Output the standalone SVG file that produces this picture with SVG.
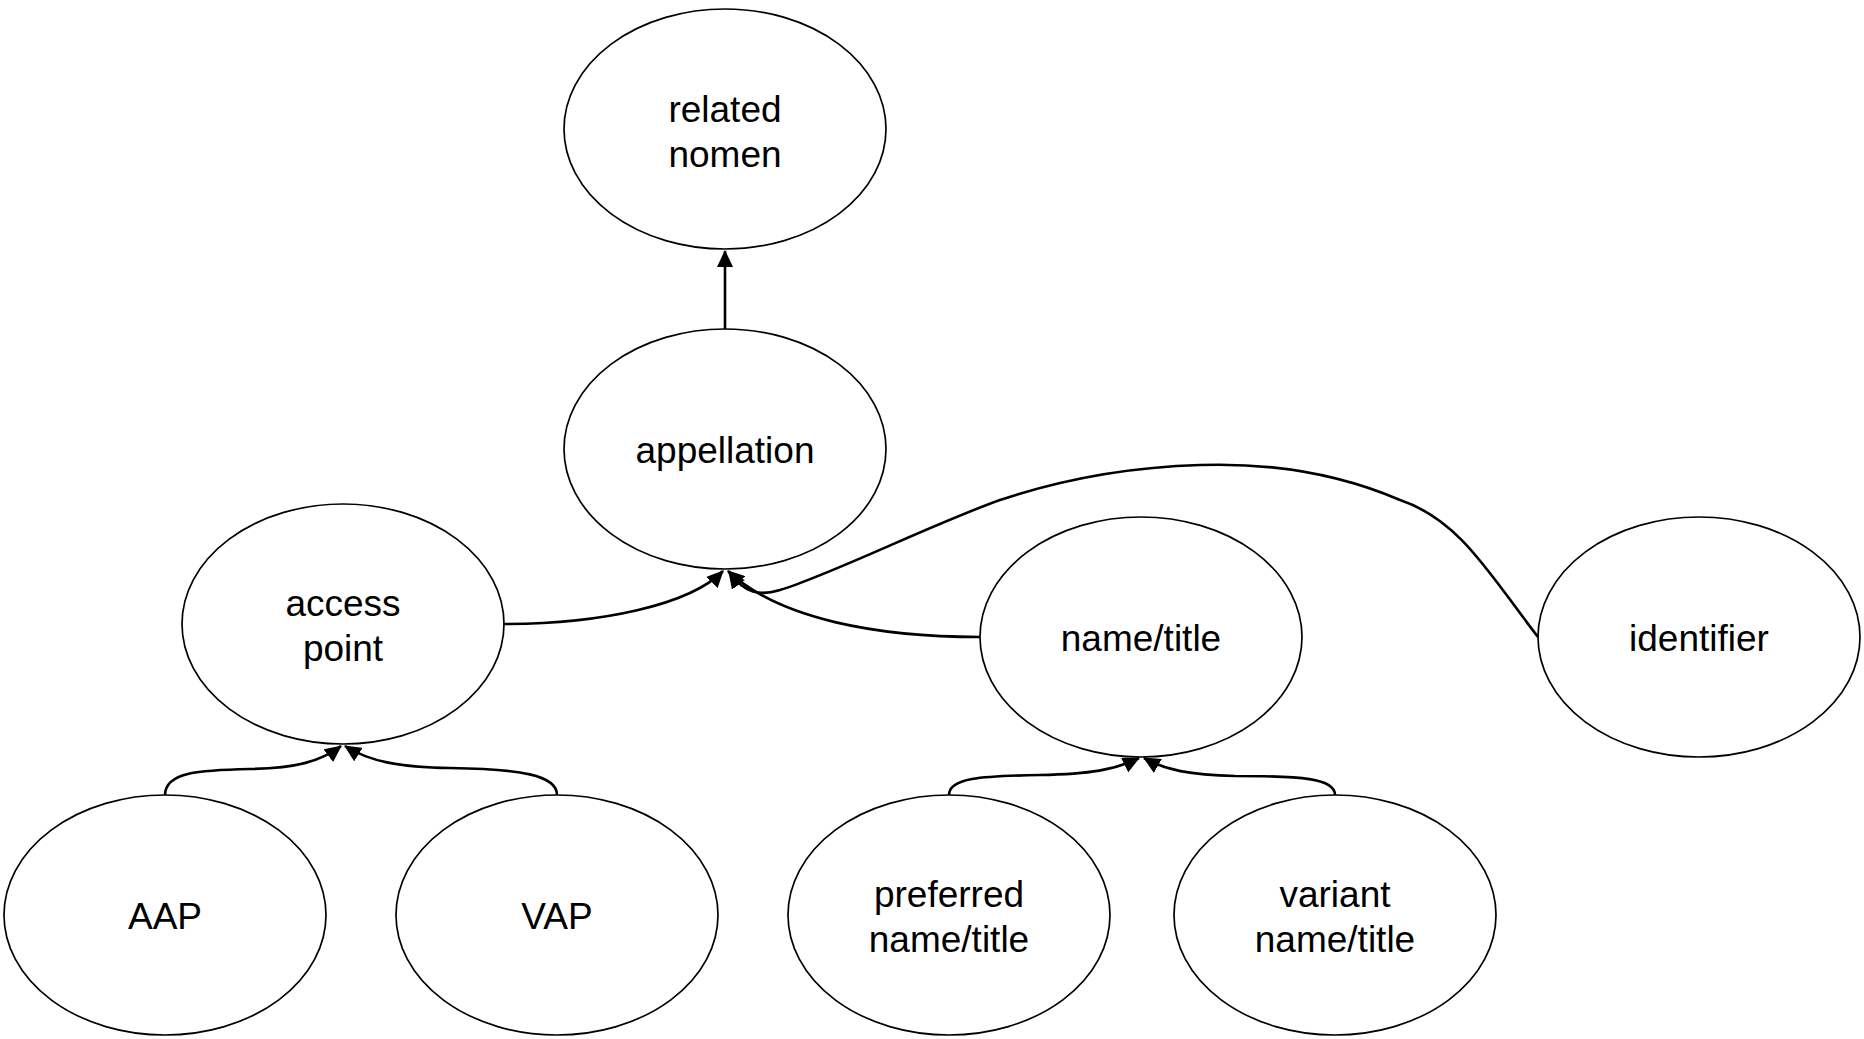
<svg xmlns="http://www.w3.org/2000/svg" width="1864" height="1039" viewBox="0 0 1864 1039">
<style>
.node ellipse{fill:#ffffff;stroke:#000000;stroke-width:1.7}
.node text{font-family:"Liberation Sans",Arial,sans-serif;font-size:37px;fill:#000000;text-anchor:middle}
.edge{fill:none;stroke:#000000;stroke-width:2.6;marker-end:url(#arrow)}
</style>
<defs>
<marker id="arrow" viewBox="0 0 17 16" refX="16" refY="8" markerWidth="17" markerHeight="16" markerUnits="userSpaceOnUse" orient="auto">
<path d="M0,0 L17,8 L0,16 z" fill="#000000"/>
</marker>
</defs>
<rect width="1864" height="1039" fill="#ffffff"/>
<g id="n-related-nomen" class="node"><ellipse cx="725" cy="129" rx="161" ry="120"/><text x="725" y="122">related</text><text x="725" y="167">nomen</text></g>
<g id="n-appellation" class="node"><ellipse cx="725" cy="449" rx="161" ry="120"/><text x="725" y="463">appellation</text></g>
<g id="n-access-point" class="node"><ellipse cx="343" cy="624" rx="161" ry="120"/><text x="343" y="616">access</text><text x="343" y="661">point</text></g>
<g id="n-name-title" class="node"><ellipse cx="1141" cy="637" rx="161" ry="120"/><text x="1141" y="651">name/title</text></g>
<g id="n-identifier" class="node"><ellipse cx="1699" cy="637" rx="161" ry="120"/><text x="1699" y="651">identifier</text></g>
<g id="n-aap" class="node"><ellipse cx="165" cy="915" rx="161" ry="120"/><text x="165" y="929">AAP</text></g>
<g id="n-vap" class="node"><ellipse cx="557" cy="915" rx="161" ry="120"/><text x="557" y="929">VAP</text></g>
<g id="n-preferred" class="node"><ellipse cx="949" cy="915" rx="161" ry="120"/><text x="949" y="907">preferred</text><text x="949" y="952">name/title</text></g>
<g id="n-variant" class="node"><ellipse cx="1335" cy="915" rx="161" ry="120"/><text x="1335" y="907">variant</text><text x="1335" y="952">name/title</text></g>
<g id="connectors">
<path class="edge" d="M725,329 L725,251"/>
<path class="edge" d="M504,624 C600,624 690,605 723,571"/>
<path class="edge" d="M980,637 C880,637 780,620 728,571"/>
<path class="edge" d="M1538,637 C1490,575 1460,520 1400,500 C1330,470 1260,463 1200,465 C1130,467 1060,480 1000,500 C930,525 830,575 780,590 C760,596 745,594 729,572"/>
<path class="edge" d="M165,795 C165,772 200,770 250,769 C295,768 320,762 341,746"/>
<path class="edge" d="M557,795 C557,775 520,769 450,768 C400,767 370,762 345,746"/>
<path class="edge" d="M949,795 C949,778 980,776 1040,775 C1090,774 1115,770 1139,758"/>
<path class="edge" d="M1335,795 C1335,778 1300,776 1235,776 C1190,775 1165,770 1144,758"/>
</g>
</svg>
